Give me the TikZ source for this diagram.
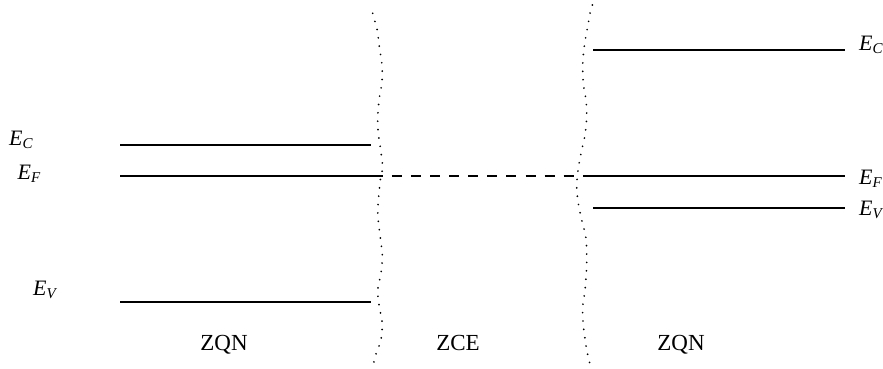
\documentclass[tikz,border=0pt]{standalone}
\usepackage{fontspec}
\setmainfont{Liberation Serif}
\newcommand{\elev}[1]{\textit{E}\raisebox{-3pt}{\fontsize{15}{18}\selectfont\textit{#1}}}
\begin{document}
\begin{tikzpicture}[x=1pt,y=-1pt,
  level/.style={line width=1.3pt},
  fermi/.style={line width=1.3pt,dash pattern=on 10pt off 9.1pt},
  boundary/.style={line width=1.9pt,line cap=round,dash pattern=on 0pt off 8.4pt},
  elabel/.style={anchor=base west,inner sep=0pt,font=\fontsize{22}{26}\selectfont},
  zlabel/.style={anchor=base,inner sep=0pt,font=\fontsize{23}{27}\selectfont}]
\path[use as bounding box] (0,0) rectangle (883,369);
% left levels
\coordinate (lc1) at (120,145); \coordinate (lc2) at (371,145);
\coordinate (lf1) at (120,176); \coordinate (lf2) at (372.7,176);
\coordinate (lv1) at (120,302); \coordinate (lv2) at (371,302);
% right levels
\coordinate (rc1) at (593,50);  \coordinate (rc2) at (845,50);
\coordinate (rf1) at (593,176); \coordinate (rf2) at (845,176);
\coordinate (rv1) at (593,208); \coordinate (rv2) at (845,208);
\draw[level] (lc1) -- (lc2);
\draw[level] (lf1) -- (lf2);
\draw[level] (lv1) -- (lv2);
\draw[level] (rc1) -- (rc2);
\draw[level] (rf1) -- (rf2);
\draw[level] (rv1) -- (rv2);
\draw[fermi] (lf2) -- (rf1);
% boundaries
\draw[boundary] plot[smooth] coordinates {(372.7,13.3) (375,21.7) (377.3,30) (379.3,46.7) (382,65) (382,81.7) (379.3,98.3) (377.7,116.7) (378.3,133.3) (380.7,150) (382.7,168.3) (380.7,176.7) (379,193.3) (377.7,211.7) (379.3,230) (382.3,255) (381,273.3) (377.7,290) (379.3,306.7) (382.3,323.3) (380.7,340.7) (375,356.7) (373.3,366)};
\draw[boundary] plot[smooth] coordinates {(592.3,5) (590,13.3) (588.3,23.3) (586.7,31.7) (584,48.3) (582.7,65) (583.3,83.3) (586,100) (586.7,116.7) (585,135) (581.7,150) (578.3,168.3) (576.7,186.7) (578.3,203.3) (581.7,220) (586,238.3) (586.7,263.3) (585,290) (582.7,306.7) (583.3,325) (586.7,350) (590.7,366.7)};
% labels
\node[elabel] (ECl) at (9,145) {\elev{C}};
\node[elabel] (EFl) at (17.5,179) {\elev{F}};
\node[elabel] (EVl) at (33,295) {\elev{V}};
\node[elabel] (ECr) at (859,51) {\elev{C}};
\node[elabel] (EFr) at (859,184) {\elev{F}};
\node[elabel] (EVr) at (859,215) {\elev{V}};
\node[zlabel] (zqn1) at (224,350) {ZQN};
\node[zlabel] (zce) at (458,350) {ZCE};
\node[zlabel] (zqn2) at (681,350) {ZQN};
\end{tikzpicture}
\end{document}
